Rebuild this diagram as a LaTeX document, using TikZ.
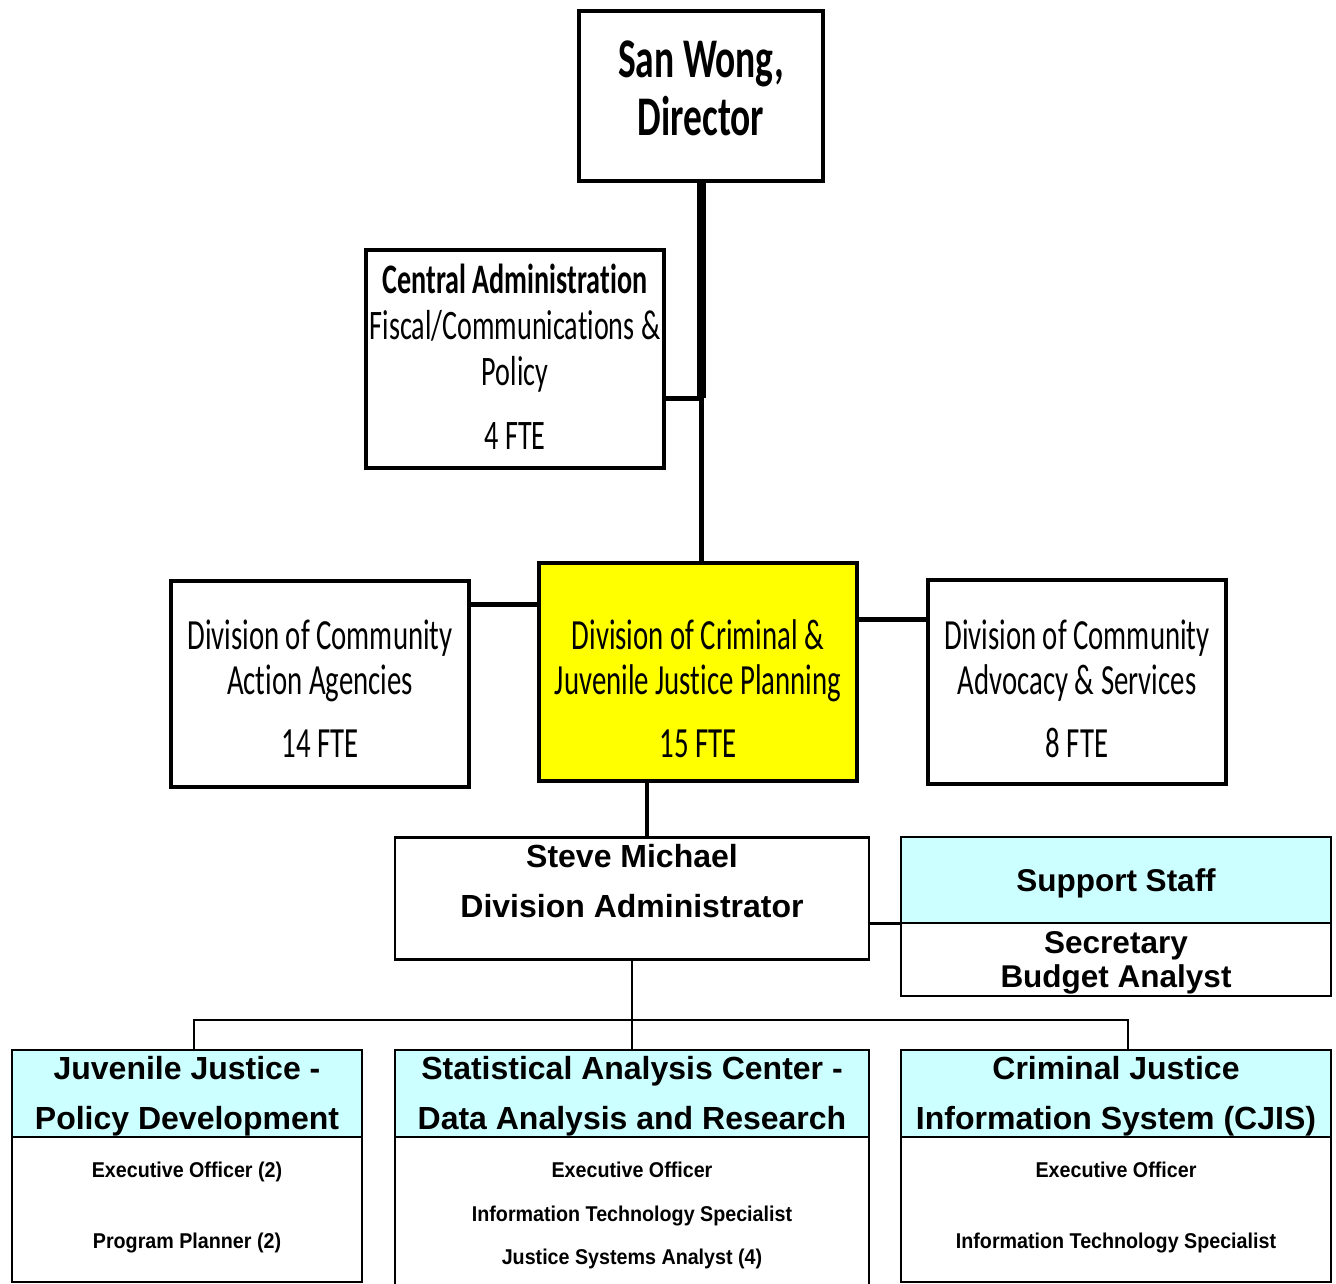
\documentclass[tikz,border=0pt]{standalone}
\usepackage{fontspec}
\usepackage{xcolor}
\usepackage{tikz}
\usetikzlibrary{positioning, calc}
\newfontfamily\calib[FakeStretch=0.67, Ligatures=NoCommon]{Carlito}
\newfontfamily\arial{Liberation Sans}
\newfontfamily\arialn[FakeStretch=0.92]{Liberation Sans}
\definecolor{headcyan}{RGB}{204, 255, 255}
\definecolor{divyellow}{RGB}{255, 255, 0}

\begin{document}
\begin{tikzpicture}[
  x=1pt, y=-1pt,
  topbox/.style={draw, line width=4pt, inner sep=0pt},
  lowbox/.style={draw, line width=2.5pt, inner sep=0pt, outer sep=0pt},
  topline/.style={line width=5pt},
  lowline/.style={line width=2.5pt},
  divtext/.style={align=center, inner sep=0pt, font=\calib\fontsize{43}{45}\selectfont},
  headtext/.style={align=center, inner sep=0pt, font=\arial\bfseries\fontsize{32}{50}\selectfont},
  itemtext/.style={align=center, inner sep=0pt, font=\arialn\bfseries\fontsize{21.4}{71}\selectfont}
]
\useasboundingbox (0,0) rectangle (1336,1284);

\node[topbox, minimum width=244pt, minimum height=170pt] (dir) at (701,96) {};
\node[align=center, inner sep=0pt, font=\calib\bfseries\fontsize{56}{58}\selectfont] (dirtxt) at (701,88) {San Wong,\\Director};

\node[topbox, minimum width=298pt, minimum height=218pt] (cadmin) at (515,359) {};
\node[divtext, font=\calib\fontsize{42}{46}\selectfont] (cadmintxt) at (515,357) {\textbf{Central Administration}\\Fiscal/Communications \&\\Policy\\[18pt]4 FTE};

\node[topbox, minimum width=298pt, minimum height=206pt] (cdiv) at (320,684) {};
\node[divtext] (cdivtxt) at (320,689) {Division of Community\\Action Agencies\\[18pt]14 FTE};

\node[topbox, fill=divyellow, minimum width=318pt, minimum height=218pt] (ccj) at (698,672) {};
\node[divtext] (ccjtxt) at (698,689) {Division of Criminal \&\\Juvenile Justice Planning\\[18pt]15 FTE};

\node[topbox, minimum width=298pt, minimum height=204pt] (adv) at (1077,682) {};
\node[divtext] (advtxt) at (1077,689) {Division of Community\\Advocacy \& Services\\[18pt]8 FTE};

\coordinate (jn) at (701,398);
\draw[line width=9pt] (dir.south) -- (jn);
\draw[topline] (jn) -- (jn -| cadmin.east);
\draw[topline] (jn) -- (jn |- ccj.north);
\draw[topline] ([yshift=80pt]cdiv.east) -- ([yshift=80pt]cdiv.east -| ccj.west);
\draw[topline] ([yshift=53pt]ccj.east) -- ([yshift=53pt]ccj.east -| adv.west);

\node[lowbox, minimum width=474pt, minimum height=122pt] (steve) at (632,898.5) {};
\node[headtext] (stevetxt) at (632,881) {Steve Michael\\Division Administrator};
\draw[line width=4pt] ([xshift=-51pt]ccj.south) -- ([xshift=-51pt]ccj.south |- steve.north);

\node[lowbox, fill=headcyan, minimum width=430pt, minimum height=86pt] (sup) at (1116,880) {};
\node[anchor=base, inner sep=0pt, font=\arial\bfseries\fontsize{31.5}{34}\selectfont] (suptxt) at (1116,891.5) {Support Staff};
\node[lowbox, minimum width=430pt, minimum height=73pt, anchor=north] (supbody) at (sup.south) {};
\node[headtext, font=\arial\bfseries\fontsize{31.5}{34}\selectfont] (supbodytxt) at (1116,963) {Secretary\\Budget Analyst};
\draw[lowline] ([yshift=-25pt]steve.east) -- ([yshift=-25pt]steve.east -| sup.west);

\node[lowbox, fill=headcyan, minimum width=350pt, minimum height=87pt] (jj) at (187,1093.5) {};
\node[headtext] (jjtxt) at (187,1096) {Juvenile Justice -\\Policy Development};
\node[lowbox, minimum width=350pt, minimum height=145pt, anchor=north] (jjbody) at (jj.south) {};
\node[itemtext] (jjbodytxt) at (187,1207.6) {Executive Officer (2)\\Program Planner (2)};

\node[lowbox, fill=headcyan, minimum width=474pt, minimum height=87pt] (sac) at (632,1093.5) {};
\node[headtext] (sactxt) at (632,1096) {Statistical Analysis Center -\\Data Analysis and Research};
\node[lowbox, minimum width=474pt, minimum height=160pt, anchor=north] (sacbody) at (sac.south) {};
\node[itemtext, font=\arialn\bfseries\fontsize{21.4}{43.5}\selectfont] (sacbodytxt) at (632,1215.7) {Executive Officer\\Information Technology Specialist\\Justice Systems Analyst (4)};

\node[lowbox, fill=headcyan, minimum width=430pt, minimum height=87pt] (cjis) at (1116,1093.5) {};
\node[headtext] (cjistxt) at (1116,1096) {Criminal Justice\\Information System (CJIS)};
\node[lowbox, minimum width=430pt, minimum height=145pt, anchor=north] (cjisbody) at (cjis.south) {};
\node[itemtext] (cjisbodytxt) at (1116,1207.6) {Executive Officer\\Information Technology Specialist};

\coordinate (jt) at (632,1020);
\draw[lowline] (steve.south) -- (jt) -- (sac.north);
\draw[lowline] ([xshift=7pt]jj.north) |- (jt) -| ([xshift=12pt]cjis.north);
\end{tikzpicture}
\end{document}
